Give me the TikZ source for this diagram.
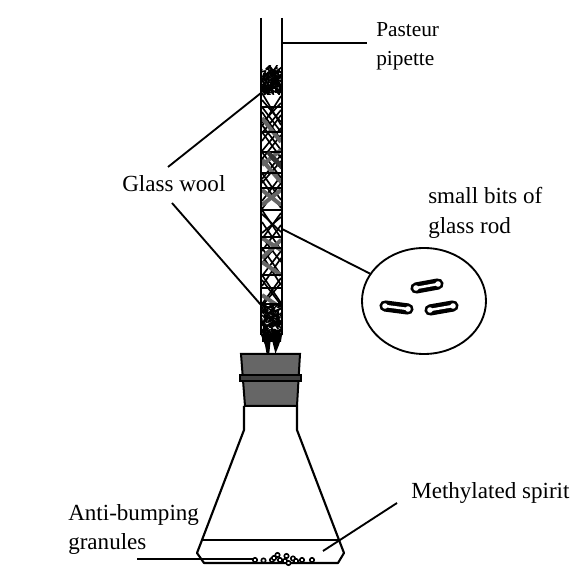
\documentclass[tikz,border=0pt]{standalone}
\usepackage{fontspec}
\usetikzlibrary{shapes.geometric}
\setmainfont{Liberation Serif}
\begin{document}
\begin{tikzpicture}[x=0.75pt,y=-0.75pt,
  wall/.style={line width=1.6pt,black},
  leader/.style={line width=1.4pt,black},
  lab/.style={anchor=base west,inner sep=0pt,font=\fontsize{17.3}{17.3}\selectfont},
  labsmall/.style={anchor=base west,inner sep=0pt,font=\fontsize{16}{16}\selectfont},
  strand/.style={line width=1.25pt,black},
  grayrod/.style={line width=3pt,black!60},
  rung/.style={line width=1.6pt,black},
  bead/.style={line width=1.2pt,draw=black,fill=white}]
\useasboundingbox (0,0) rectangle (587,573);
\fill[white] (0,0) rectangle (587,573);

% glass rod fill of the pipette
\begin{scope}
\clip (262,60) rectangle (281,345);
\foreach \a/\b in {93/125,100/122,107/132,112/140,125/150,132/158,152/178,158/182,173/200,180/208,210/238,214/232,222/250,237/262,248/275,255/285,275/303,280/305}{
  \draw[strand] (262,\a) -- (281,\b);
  \draw[strand] (281,\a+3) -- (262,\b+1);
}
\foreach \a/\b in {118/142,160/182,190/205,238/250,262/275,295/308}{
  \draw[grayrod] (262,\a) -- (281,\b);
}
\foreach \a/\b in {165/150,205/190,258/240}{
  \draw[grayrod] (262,\a) -- (281,\b);
}
\foreach \y in {107,132,152,173,188,210,237,248,275,288,304}{
  \draw[rung] (262,\y) -- (281,\y);
}
\foreach \i in {1,...,6}{
  \draw[line width=3pt,black!80] (266+\i*2,150+\i*2) -- (272+\i*2,158+\i*2);
}
\end{scope}

% dense wool, top and bottom
\pgfmathsetseed{4217}
\begin{scope}
\clip (261,66) rectangle (282,95);
\foreach \i in {1,...,170}{
  \pgfmathsetmacro{\xa}{262+rnd*19}
  \pgfmathsetmacro{\ya}{69+rnd*24}
  \pgfmathsetmacro{\xb}{\xa-7+rnd*14}
  \pgfmathsetmacro{\yb}{\ya-7+rnd*14}
  \draw[line width=1.2pt] (\xa,\ya) -- (\xb,\yb);
}
\end{scope}
\begin{scope}
\clip (262,304) rectangle (281,342);
\foreach \i in {1,...,230}{
  \pgfmathsetmacro{\xa}{262+rnd*19}
  \pgfmathsetmacro{\ya}{305+rnd*38}
  \pgfmathsetmacro{\xb}{\xa-6+rnd*12}
  \pgfmathsetmacro{\yb}{\ya-6+rnd*12}
  \draw[line width=1.2pt] (\xa,\ya) -- (\xb,\yb);
}
\end{scope}

% pipette tips: two tapered fingers
\fill[black] (260.5,334) -- (272,334) -- (270.5,342) -- (269,356) -- (267,356) -- (265,345) -- cycle;
\fill[black] (282.5,334) -- (271,334) -- (272.5,342) -- (276,356) -- (274.5,356) -- (279,345) -- cycle;
\fill[black] (270,334) rectangle (273,340);

% pipette walls
\coordinate (pTop) at (282,43);
\coordinate (pWoolA) at (261,93);
\coordinate (pWoolB) at (261,305);
\coordinate (pRod) at (282,229);
\draw[wall] (261,18) -- (261,335);
\draw[wall] (282,18) -- (282,335);

% stopper
\draw[line width=1.5pt,fill=black!60] (241,354) -- (300,354) -- (297,406) -- (245,406) -- cycle;
\draw[line width=1.5pt,fill=black!75] (240,375) rectangle (301,381);

% flask
\draw[wall,line join=round] (244,406) -- (244,430) -- (202,540) -- (197,553) -- (204,563) -- (338,563) -- (344,553) -- (339,540) -- (297,430) -- (297,406);
\draw[wall] (202,540) -- (339,540);

% granules
\foreach \p in {(255,560),(263.5,560.5),(272,560),(277.5,555),(280,560),(286.5,556),(285,561),(293,558.5),(296,561),(302,560),(312,560),(288.5,563),(274,558)}{
  \draw[bead] \p circle (2.2);
}

% leaders
\coordinate (lP) at (367,43);
\coordinate (lGA) at (168,167);
\coordinate (lGB) at (172,203);
\coordinate (lAB) at (137,559);
\coordinate (gr) at (254,559);
\coordinate (mA) at (323,551);
\coordinate (mB) at (397,503);
\draw[leader] (pTop) -- (lP);
\draw[leader] (lGA) -- (pWoolA);
\draw[leader] (lGB) -- (pWoolB);
\draw[leader] (lAB) -- (gr);
\draw[leader] (mA) -- (mB);

% magnified circle
\node[draw,line width=1.4pt,ellipse,minimum width=93pt,minimum height=79.5pt,inner sep=0pt] (lens) at (424,301) {};
\draw[leader] (pRod) -- (lens);
\foreach \xa/\ya/\xb/\yb in {416/288/438/284,385/306/408/309,430/310/453/306}{
  \draw[line width=8.4pt,line cap=round] (\xa,\ya) -- (\xb,\yb);
  \draw[line width=1.9pt,white] (\xa,\ya) -- (\xb,\yb);
  \fill[white] (\xa,\ya) circle (2.8);
  \fill[white] (\xb,\yb) circle (2.8);
}

% labels
\node[labsmall] (t1) at (376,37) {Pasteur};
\node[labsmall] (t2) at (376,66) {pipette};
\node[lab] (t3) at (122,192) {Glass wool};
\node[lab] (t4) at (428,204) {small bits of};
\node[lab] (t5) at (428,234) {glass rod};
\node[lab] (t6) at (411,499) {Methylated spirit};
\node[lab] (t7) at (68,521) {Anti-bumping};
\node[lab] (t8) at (68,550) {granules};
\end{tikzpicture}
\end{document}
